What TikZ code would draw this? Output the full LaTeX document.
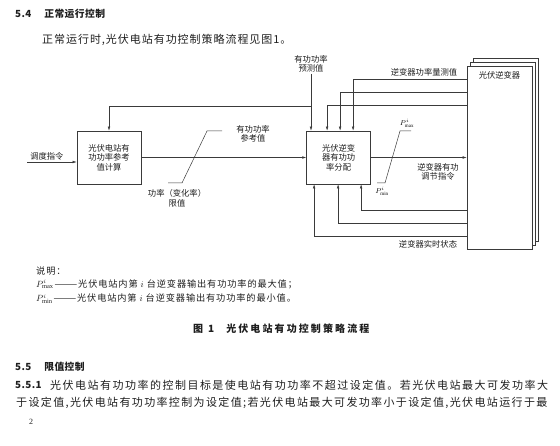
\documentclass[tikz,border=0pt]{standalone}
\usepackage{fontspec}
\setmainfont{Liberation Serif}
\newfontfamily\cjk{Noto Sans CJK SC}
\newfontfamily\cjkintro[LetterSpace=8.7]{Noto Sans CJK SC}
\newfontfamily\cjkparA[LetterSpace=13.5]{Noto Sans CJK SC}
\newfontfamily\cjkparB[LetterSpace=12.4]{Noto Sans CJK SC}
\newfontfamily\cjkwide[LetterSpace=9.5]{Noto Sans CJK SC}
\newfontfamily\cjkcap[LetterSpace=21]{Noto Sans CJK SC}
\newfontfamily\cjkhead[LetterSpace=4]{Noto Sans CJK SC}
\usepackage{tikz}
\usetikzlibrary{arrows.meta,positioning}

\definecolor{linegray}{HTML}{3A3A3A}
\definecolor{inkgray}{HTML}{1E1E1E}

\newcommand{\dgmfont}{\cjk\fontsize{8.3}{9.6}\selectfont}
\newcommand{\headfont}{\cjkhead\bfseries\fontsize{9.8}{12}\selectfont}
\newcommand{\bodysize}{\fontsize{11}{13}\selectfont}
\newcommand{\notefont}{\cjkwide\fontsize{9.2}{11}\selectfont}
\newcommand{\capfont}{\cjkcap\bfseries\fontsize{10}{12}\selectfont}

\tikzset{
  blk/.style={draw=linegray, line width=0.6pt, minimum width=64pt, minimum height=53pt, inner sep=0pt, align=center, font=\dgmfont, text=inkgray},
  invbox/.style={draw=linegray, fill=white, line width=0.6pt, minimum width=65pt, minimum height=183pt, inner sep=0pt},
  lbl/.style={align=center, font=\dgmfont, inner sep=1pt, text=inkgray},
  txt/.style={anchor=west, inner sep=0pt, text=inkgray},
  flow/.style={draw=linegray, line width=0.5pt, -{Latex[length=4pt,width=2.6pt]}},
  wire/.style={draw=linegray, line width=0.5pt},
}

\begin{document}
\begin{tikzpicture}[x=1pt, y=-1pt]
\useasboundingbox (0,0) rectangle (560,446);

% heading and intro
\node[txt] (h54) at (15,14) {\headfont 5.4\hspace{13pt}正常运行控制};
\node[txt] (intro) at (42,40) {\cjkintro\bodysize 正常运行时,光伏电站有功控制策略流程见图1。};

% blocks
\node[blk] (calc) at (109,157.5) {光伏电站有\\功功率参考\\值计算};
\node[blk, right=165pt of calc] (alloc) {光伏逆变\\器有功功\\率分配};

% inverter stack
\node[invbox] (inv3) at (505.5,149.5) {};
\node[invbox] (inv2) at (502.5,153.5) {};
\node[invbox] (inv) at (499.5,157.5) {};
\node[lbl, below=5pt of inv.north] (invlbl) {光伏逆变器};

% dispatch command and forecast
\coordinate (cmd) at (27,162);
\draw[flow] (cmd) -- node[lbl, above=1pt, pos=0.4] (cmdlbl) {调度指令} (cmd -| calc.west);
\node[lbl] (pred) at (311,64) {有功功率\\预测值};
\draw[flow] (pred.south) -- (pred.south |- alloc.north);
\coordinate (fbsplit) at (311,106);
\draw[flow] (fbsplit) -| (calc.north);

% reference value with rate limit
\draw[flow] (calc.east) -- (alloc.west);
\node[lbl] (reflbl) at (253,134) {有功功率\\参考值};
\node[lbl] (ratelbl) at (177,198) {功率（变化率）\\限值};
\draw[wire] (168,183) -- (182,183) -- (207,131) -- (222,131);

% measured power
\foreach \yy/\xx in {79/14.5, 92/1.5, 105/-11.5}
  \draw[flow] (inv.west |- 0,\yy) -| ([xshift=\xx pt]alloc.north);
\node[lbl] (measlbl) at (424,72) {逆变器功率量测值};

% command to inverters
\draw[flow] (alloc.east) -- (alloc.east -| inv.west);
\node[lbl] (outlbl) at (438,172) {逆变器有功\\调节指令};
\draw[wire] (377,183) -- (385,183) -- (400,131) -- (411,131);
\node[inner sep=0pt, font=\fontsize{7}{8}\selectfont] (pmax) at (407,123) {$P^{i}_{\max}$};
\node[inner sep=0pt, font=\fontsize{7}{8}\selectfont] (pmin) at (382,191) {$P^{i}_{\min}$};

% real-time status
\foreach \yy/\xx in {210/22.5, 223/-0.5, 236/-24.5}
  \draw[flow] (inv.west |- 0,\yy) -| ([xshift=\xx pt]alloc.south);
\node[lbl] (statlbl) at (428,244) {逆变器实时状态};

% notes and caption
\node[txt] (notehd) at (36,271) {\notefont 说明：};
\node[txt] (notemax) at (36,284) {\notefont $P^{i}_{\max}$\hspace{1pt}———光伏电站内第 $i$ 台逆变器输出有功功率的最大值；};
\node[txt] (notemin) at (36,299) {\notefont $P^{i}_{\min}$\hspace{1pt}———光伏电站内第 $i$ 台逆变器输出有功功率的最小值。};
\node[txt] (cap) at (193,329) {\capfont 图\hspace{5pt}1\hspace{12pt}光伏电站有功控制策略流程};

% next section
\node[txt] (h55) at (15,367) {\headfont 5.5\hspace{13pt}限值控制};
\node[txt] (h551) at (15,385) {\headfont 5.5.1};
\node[txt] (par1) at (50,385) {\cjkparA\bodysize 光伏电站有功功率的控制目标是使电站有功功率不超过设定值。若光伏电站最大可发功率大};
\node[txt] (par2) at (16,403) {\cjkparB\bodysize 于设定值,光伏电站有功功率控制为设定值;若光伏电站最大可发功率小于设定值,光伏电站运行于最};
\node[txt] (pgno) at (29,422) {\fontsize{8}{9}\selectfont 2};
\end{tikzpicture}
\end{document}
